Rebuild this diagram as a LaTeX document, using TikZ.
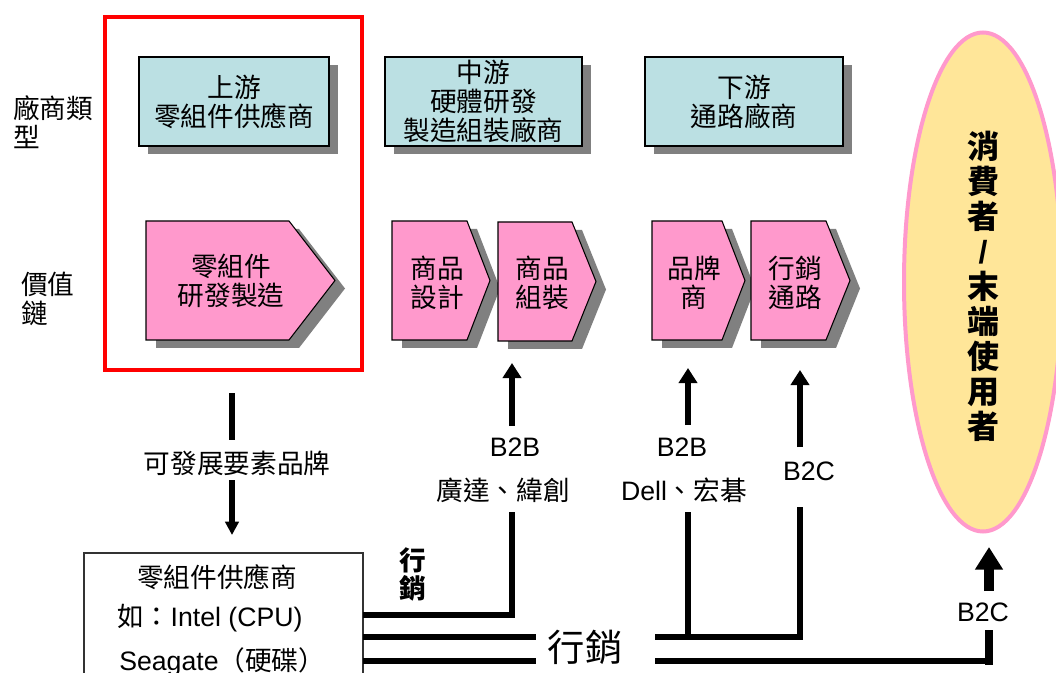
\documentclass[tikz,border=0pt]{standalone}
\usepackage{fontspec}
\setmainfont{Liberation Sans}
\newfontfamily\cjk{Noto Sans CJK TC}
\usetikzlibrary{arrows.meta,shapes.geometric,shadows}
\definecolor{tealfill}{HTML}{BBE0E3}
\definecolor{pinkfill}{HTML}{FF99CC}
\definecolor{yellowfill}{HTML}{FFE699}
\definecolor{shadowgray}{HTML}{808080}
\newcommand\mypent[5]{% left, corner, tip, top, bottom
  \fill[shadowgray, shift={(10,8)}] (#1,#4) -- (#2,#4) -- (#3,{(#4+#5)/2}) -- (#2,#5) -- (#1,#5) -- cycle;
  \draw[pentstyle] (#1,#4) -- (#2,#4) -- (#3,{(#4+#5)/2}) -- (#2,#5) -- (#1,#5) -- cycle;}
\begin{document}
\begin{tikzpicture}[x=0.75pt,y=-0.75pt,
  cj/.style={font=\cjk\fontsize{20}{21.75}\selectfont, align=center, inner sep=0pt},
  lat/.style={font=\fontsize{20}{24}\selectfont, inner sep=0pt},
  tealbox/.style={draw=black, line width=0.8pt, fill=tealfill, inner sep=0pt,
    drop shadow={shadow xshift=6.75pt, shadow yshift=-6pt, fill=shadowgray, opacity=1}},
  pentstyle/.style={draw=black, line width=0.8pt, fill=pinkfill},
  heavy/.style={line width=4.5pt},
  uptip/.style={-{Triangle[width=13.5pt,length=11.25pt]}}]
\useasboundingbox (0,0) rectangle (1056,673);
\fill[white] (0,0) rectangle (1056,673);

% red frame
\node[draw=red, line width=3pt, minimum width=192.75pt, minimum height=264.75pt, inner sep=0pt] (redbox) at (233.5,193.5) {};

% left labels
\node[cj, align=left, anchor=west] (lt1) at (13,122.5) {廠商類\\型};
\node[cj, align=left, anchor=west] (lt2) at (21,299) {價值\\鏈};

% type boxes
\node[tealbox, cj, minimum width=142.5pt, minimum height=66.75pt] (up) at (234,101.5) {上游\\零組件供應商};
\node[tealbox, cj, minimum width=147.75pt, minimum height=66.75pt] (mid) at (483.5,101.5) {中游\\硬體研發\\製造組裝廠商};
\node[tealbox, cj, minimum width=148.5pt, minimum height=66.75pt] (down) at (744,101.5) {下游\\通路廠商};

% value chain arrows
\mypent{146}{289}{335}{221}{340}
\node[cj] (v1) at (231,281) {零組件\\研發製造};
\mypent{392}{467}{490}{221}{340}
\node[cj] (v2) at (437,283) {商品\\設計};
\mypent{498}{572}{596}{222}{341}
\node[cj] (v3) at (542,283) {商品\\組裝};
\mypent{652}{722}{745}{221}{340}
\node[cj] (v4) at (694,283) {品牌\\商};
\mypent{751}{826}{850}{221}{340}
\node[cj] (v5) at (795,283) {行銷\\通路};

% consumer ellipse
\node[ellipse, draw=pinkfill, line width=3pt, fill=yellowfill, minimum width=118.5pt, minimum height=374.25pt, inner sep=0pt] (cons) at (983,282) {};
\node[font=\cjk\bfseries\fontsize{24}{26.25}\selectfont, align=center, inner sep=0pt] (ctext) at (983,286.5) {消\\費\\者\\{\rmfamily\bfseries /}\\末\\端\\使\\用\\者};

% supplier box
\node[draw=black!80, line width=1pt, minimum width=209.25pt, minimum height=110.25pt, inner sep=0pt] (sup) at (223.5,626.5) {};
\node[cj] (sup1) at (217,577) {零組件供應商};
\node[lat, anchor=west] (sup2) at (117,618) {{\cjk 如：}Intel (CPU)};
\node[lat, anchor=west] (sup3) at (119,662) {Seagate{\cjk （硬碟）}};

% down arrow
\coordinate (d0) at (232,393);
\coordinate (d1) at (232,440);
\coordinate (d2) at (232,480);
\coordinate (d3) at (232,535);
\draw[line width=4pt] (d0) -- (d1);
\draw[line width=4pt, -{Triangle[width=10pt,length=10pt]}] (d2) -- (d3);
\node[cj] (dl) at (237,463) {可發展要素品牌};

% line 1 -> B2B
\coordinate (s1) at (363,615);
\coordinate (c1) at (512,615);
\coordinate (g1) at (512,512);
\coordinate (h1) at (512,426);
\coordinate (t1) at (512,363);
\draw[heavy] (s1) -- (c1) -- (g1);
\draw[heavy, uptip] (h1) -- (t1);
\node[lat] (b2b1) at (515,447) {B2B};
\node[cj] (q1) at (503,490) {廣達、緯創};
\node[font=\cjk\bfseries\fontsize{20}{21}\selectfont, align=center, inner sep=0pt] (mk1) at (413,574) {行\\銷};

% line 2
\coordinate (s2) at (363,637);
\coordinate (g2a) at (536,637);
\coordinate (g2b) at (655,637);
\coordinate (j2) at (688,637);
\coordinate (c3) at (800,637);
\draw[heavy] (s2) -- (g2a);
\draw[heavy] (g2b) -- (c3) -- (800,507);
\draw[heavy, uptip] (800,447) -- (800,370);
\draw[heavy] (j2) -- (688,512);
\draw[heavy, uptip] (688,425) -- (688,368);
\node[lat] (b2b2) at (682,447) {B2B};
\node[lat] (q2) at (684,490) {Dell{\cjk 、宏碁}};
\node[lat] (b2c1) at (809,471) {B2C};

% line 3
\coordinate (s3) at (363,661);
\coordinate (g3a) at (536,661);
\coordinate (g3b) at (655,661);
\coordinate (c4) at (989,661);
\draw[heavy] (s3) -- (g3a);
\draw[heavy] (g3b) -- (c4);
\draw[line width=6pt] (989,664.5) -- (989,630);
\node[lat] (b2c2) at (983,612) {B2C};
\draw[line width=8pt, -{Triangle[width=20pt,length=17pt]}] (989,591) -- (989,547);

\node[font=\cjk\fontsize{28}{30}\selectfont, inner sep=0pt] (mk2) at (585,647) {行銷};
\end{tikzpicture}
\end{document}
